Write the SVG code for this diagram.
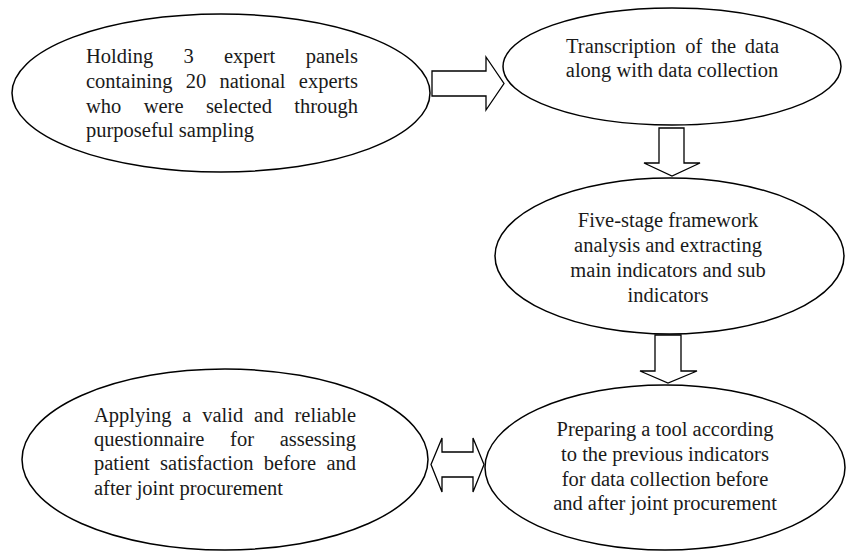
<svg xmlns="http://www.w3.org/2000/svg" width="846" height="551" viewBox="0 0 846 551">
<style>
.node ellipse{fill:#fff;stroke:#000;stroke-width:1.5}
.arr{fill:#fff;stroke:#000;stroke-width:1.3;stroke-linejoin:miter}
text{font-family:"Liberation Serif","Times New Roman",serif;font-size:20.5px;fill:#1a1a1a}
.c{text-anchor:middle}
.e{text-anchor:end}
</style>
<rect width="846" height="551" fill="#fff"/>
<g id="n1" class="node">
<ellipse cx="221" cy="93" rx="209" ry="79"/>
<text><tspan x="86" y="63">Holding</tspan><tspan x="183.5" y="63">3</tspan><tspan x="224" y="63">expert</tspan><tspan x="358" y="63" class="e">panels</tspan></text>
<text><tspan x="86" y="88">containing</tspan><tspan x="185.8" y="88">20</tspan><tspan x="219.5" y="88">national</tspan><tspan x="358" y="88" class="e">experts</tspan></text>
<text><tspan x="86" y="113">who</tspan><tspan x="143.7" y="113">were</tspan><tspan x="205.9" y="113">selected</tspan><tspan x="358" y="113" class="e">through</tspan></text>
<text x="86" y="137">purposeful sampling</text>
</g>
<g id="n2" class="node">
<ellipse cx="672" cy="66.5" rx="169" ry="58.5"/>
<text><tspan x="566" y="53">Transcription</tspan><tspan x="685.2" y="53">of</tspan><tspan x="711" y="53">the</tspan><tspan x="779" y="53" class="e">data</tspan></text>
<text x="672" y="77" class="c">along with data collection</text>
</g>
<g id="n3" class="node">
<ellipse cx="669.5" cy="256" rx="174.5" ry="78"/>
<text class="c" x="668" y="227">Five-stage framework</text>
<text class="c" x="668" y="252">analysis and extracting</text>
<text class="c" x="668" y="277">main indicators and sub</text>
<text class="c" x="668" y="302">indicators</text>
</g>
<g id="n4" class="node">
<ellipse cx="665" cy="467.5" rx="180" ry="82.5"/>
<text class="c" x="665" y="436">Preparing a tool according</text>
<text class="c" x="665" y="461">to the previous indicators</text>
<text class="c" x="665" y="486">for data collection before</text>
<text class="c" x="665" y="510">and after joint procurement</text>
</g>
<g id="n5" class="node">
<ellipse cx="225" cy="459.5" rx="203" ry="90.5"/>
<text><tspan x="94" y="422">Applying</tspan><tspan x="182.3" y="422">a</tspan><tspan x="202.2" y="422">valid</tspan><tspan x="254.1" y="422">and</tspan><tspan x="356" y="422" class="e">reliable</tspan></text>
<text><tspan x="94" y="446">questionnaire</tspan><tspan x="230.1" y="446">for</tspan><tspan x="356" y="446" class="e">assessing</tspan></text>
<text><tspan x="94" y="470">patient</tspan><tspan x="160.1" y="470">satisfaction</tspan><tspan x="263.8" y="470">before</tspan><tspan x="356" y="470" class="e">and</tspan></text>
<text x="94" y="495">after joint procurement</text>
</g>
<g id="connectors">
<polygon class="arr" points="432,71 486,71 486,57 504,83.5 486,110 486,96 432,96"/>
<polygon class="arr" points="659,128 684,128 684,163 700,163 672,176 644,163 659,163"/>
<polygon class="arr" points="655,335 681,335 681,371 697,371 668,383 640,371 655,371"/>
<polygon class="arr" points="431,464.5 442,438 442,452 473,452 473,438 484,464.5 473,492 473,477 442,477 442,492"/>
</g>
</svg>
